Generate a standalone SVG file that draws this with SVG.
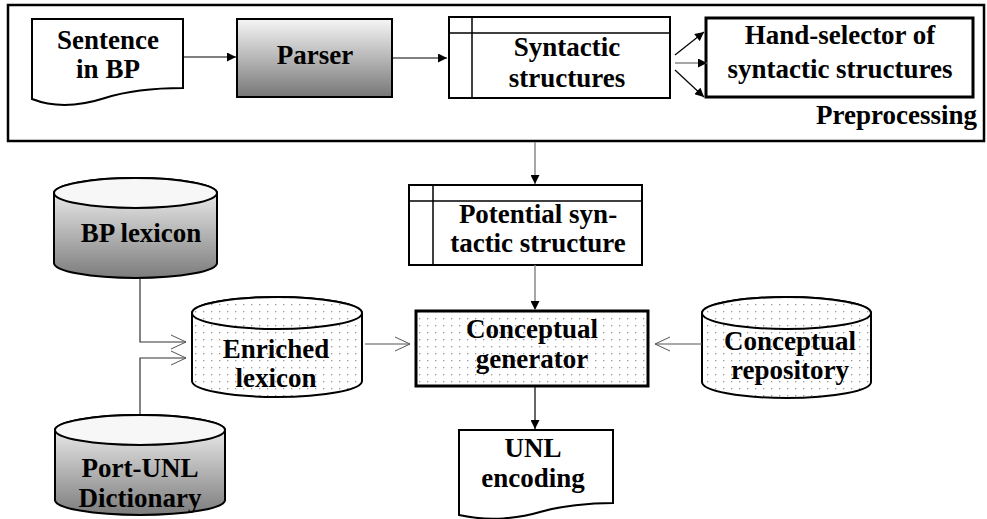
<svg xmlns="http://www.w3.org/2000/svg" width="987" height="519" viewBox="0 0 987 519">
<style>
text{font-family:"Liberation Serif","Times New Roman",serif;font-weight:bold;font-size:27px;fill:#000;text-anchor:middle}
.box{stroke:#000;stroke-width:2;fill:#fff}
.thick{stroke:#000;stroke-width:3}
.ln{stroke:#000;stroke-width:1.2;fill:none}
.gl{stroke:#888;stroke-width:1.5;fill:none}
.open{stroke:#555;stroke-width:1;fill:none}
</style>
<defs>
<linearGradient id="gParser" x1="0" y1="0" x2="0" y2="1">
<stop offset="0" stop-color="#f6f6f6"/><stop offset="1" stop-color="#777"/>
</linearGradient>
<linearGradient id="gCyl" x1="0" y1="0" x2="0" y2="1">
<stop offset="0" stop-color="#fafafa"/><stop offset="1" stop-color="#7c7c7c"/>
</linearGradient>
<pattern id="dots" width="8" height="7" patternUnits="userSpaceOnUse">
<rect width="8" height="7" fill="#fff"/>
<rect x="3" y="3" width="1.3" height="1.3" fill="#999"/>
</pattern>
<marker id="tri" viewBox="0 0 10 10" refX="10" refY="5" markerWidth="10" markerHeight="9" markerUnits="userSpaceOnUse" orient="auto">
<path d="M0,0 L10,5 L0,10 Z" fill="#000"/>
</marker>
<marker id="vee" viewBox="0 0 16 16" refX="15" refY="8" markerWidth="16" markerHeight="16" markerUnits="userSpaceOnUse" orient="auto">
<path d="M0,1 L15,8 L0,15" fill="none" stroke="#555" stroke-width="1"/>
</marker>
</defs>

<g id="preprocessing">
<rect x="8" y="5" width="976" height="136" fill="none" stroke="#000" stroke-width="2.5"/>
<text x="977" y="124" style="text-anchor:end">Preprocessing</text>
</g>

<g id="sentence">
<path class="box" d="M32,19 H183 V88 C160,88 130,90 105,98 C80,106 55,108 32,99 Z"/>
<text x="108" y="49">Sentence</text>
<text x="108" y="78">in BP</text>
</g>

<g id="parser">
<rect x="237" y="19" width="155" height="78" fill="url(#gParser)" stroke="#000" stroke-width="2"/>
<text x="315" y="64">Parser</text>
</g>

<g id="syntactic">
<rect class="box" x="449" y="17" width="221" height="81"/>
<line x1="449" y1="33" x2="670" y2="33" stroke="#000" stroke-width="1.5"/>
<line x1="472" y1="17" x2="472" y2="98" stroke="#000" stroke-width="1.5"/>
<text x="567" y="56">Syntactic</text>
<text x="567" y="87">structures</text>
</g>

<g id="handselector">
<rect x="706" y="18" width="267" height="79" fill="#fff" class="thick"/>
<text x="840" y="44">Hand-selector of</text>
<text x="840" y="78">syntactic structures</text>
</g>

<g id="potential">
<rect class="box" x="409" y="185" width="233" height="80"/>
<line x1="409" y1="201" x2="642" y2="201" stroke="#000" stroke-width="1.5"/>
<line x1="433" y1="185" x2="433" y2="265" stroke="#000" stroke-width="1.5"/>
<text x="538" y="223">Potential syn-</text>
<text x="538" y="252">tactic structure</text>
</g>

<g id="generator">
<rect x="416" y="311" width="232" height="75" fill="url(#dots)" class="thick"/>
<text x="532" y="338">Conceptual</text>
<text x="532" y="368">generator</text>
</g>

<g id="unl">
<path class="box" d="M459,430 H613 V503 C590,503 560,506 540,512 C520,518 490,522 459,515 Z"/>
<text x="533" y="457">UNL</text>
<text x="533" y="487">encoding</text>
</g>

<g id="bplexicon">
<path d="M54,193 A81.5,15 0 0 1 217,193 V263 A81.5,15 0 0 1 54,263 Z" fill="url(#gCyl)" stroke="#000" stroke-width="2"/>
<ellipse cx="135.5" cy="193" rx="81.5" ry="15" fill="#f7f7f7" stroke="#000" stroke-width="2"/>
<text x="141" y="242">BP lexicon</text>
</g>

<g id="portunl">
<path d="M55,430 A85,15 0 0 1 225,430 V500 A85,15 0 0 1 55,500 Z" fill="url(#gCyl)" stroke="#000" stroke-width="2"/>
<ellipse cx="140" cy="430" rx="85" ry="15" fill="#f7f7f7" stroke="#000" stroke-width="2"/>
<text x="140" y="477">Port-UNL</text>
<text x="140" y="507">Dictionary</text>
</g>

<g id="enriched">
<path d="M192,313 A85,16 0 0 1 362,313 V381 A85,16 0 0 1 192,381 Z" fill="url(#dots)" stroke="#000" stroke-width="2"/>
<ellipse cx="277" cy="313" rx="85" ry="16" fill="url(#dots)" stroke="#000" stroke-width="2"/>
<text x="276" y="358">Enriched</text>
<text x="276" y="387">lexicon</text>
</g>

<g id="repository">
<path d="M702,313 A84.5,16 0 0 1 871,313 V382 A84.5,16 0 0 1 702,382 Z" fill="url(#dots)" stroke="#000" stroke-width="2"/>
<ellipse cx="786.5" cy="313" rx="84.5" ry="16" fill="url(#dots)" stroke="#000" stroke-width="2"/>
<text x="790" y="350">Conceptual</text>
<text x="790" y="379">repository</text>
</g>

<g id="connectors">
<line class="ln" x1="183" y1="57" x2="236" y2="57" marker-end="url(#tri)"/>
<line class="ln" x1="393" y1="58" x2="447" y2="58" marker-end="url(#tri)"/>
<line class="ln" x1="675" y1="55" x2="704" y2="32" marker-end="url(#tri)"/>
<line class="gl" x1="675" y1="63" x2="707" y2="63" marker-end="url(#tri)"/>
<line class="ln" x1="675" y1="70" x2="704" y2="97" marker-end="url(#tri)"/>
<line class="gl" x1="535" y1="142" x2="535" y2="184" marker-end="url(#tri)"/>
<line class="gl" x1="535" y1="265" x2="535" y2="310" marker-end="url(#tri)"/>
<line class="ln" x1="535" y1="387" x2="535" y2="429" marker-end="url(#tri)"/>
<polyline class="ln" points="140,279 140,342 186,342" marker-end="url(#vee)" style="stroke:#333"/>
<polyline class="ln" points="140,414 140,358 186,358" marker-end="url(#vee)" style="stroke:#333"/>
<line class="open" x1="365" y1="344" x2="410" y2="344" marker-end="url(#vee)"/>
<line class="open" x1="702" y1="344" x2="655" y2="344" marker-end="url(#vee)"/>
</g>
</svg>
